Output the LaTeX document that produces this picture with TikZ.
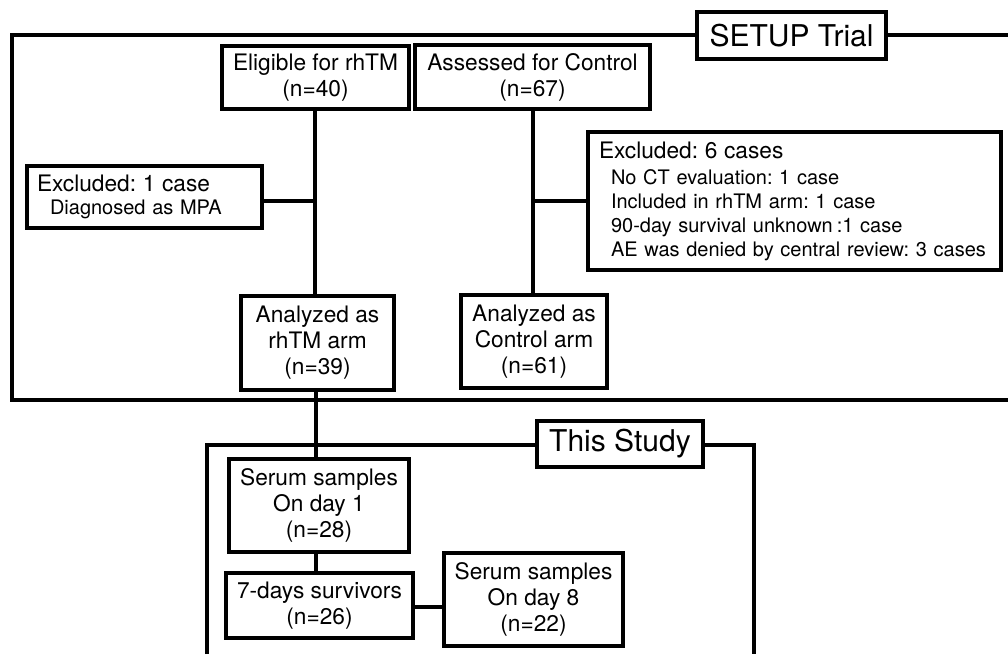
\documentclass[tikz,border=0pt]{standalone}
\usepackage{fontspec}
\setmainfont{TeX Gyre Heros}
\frenchspacing
\begin{document}
\begin{tikzpicture}[x=1pt,y=-1pt,
  frame/.style={line width=3.2pt},
  link/.style={line width=3.2pt},
  box/.style={draw, line width=3.2pt, fill=white, font=\fontsize{22.7}{26}\selectfont, align=center, inner sep=0pt},
  leftbox/.style={draw, line width=3.2pt, fill=white, font=\fontsize{20}{24}\selectfont, align=left, inner ysep=0pt},
  lbl/.style={draw, line width=3.2pt, fill=white, font=\fontsize{30}{34}\selectfont, inner sep=0pt}]
\useasboundingbox (0,0) rectangle (1008,654);

% frames
\draw[frame] (1008,35) -- (12,35) -- (12,400) -- (1008,400);
\draw[frame] (207,654) -- (207,445) -- (754,445) -- (754,654);

% frame labels
\node[lbl, minimum width=189pt, minimum height=47pt] (setup) at (791.5,35.5) {SETUP Trial};
\node[lbl, minimum width=166pt, minimum height=46pt] (study) at (620,444) {This Study};

% SETUP trial boxes
\node[box, minimum width=187pt, minimum height=63pt] (elig) at (315.5,77.5) {Eligible for rhTM\\(n=40)};
\node[box, minimum width=235pt, minimum height=64pt] (assess) at (532.5,77) {Assessed for Control\\(n=67)};
\node[leftbox, text width=215pt, inner xsep=10pt, minimum height=62pt] (excl1) at (144.5,197)
  {{\fontsize{22.7}{23}\selectfont Excluded: 1 case}\\[-1pt]\hspace*{13pt}Diagnosed as MPA};
\node[leftbox, text width=391pt, inner xsep=11pt, minimum height=138pt] (excl6) at (794.5,201)
  {{\fontsize{22.7}{24}\selectfont Excluded: 6 cases}\\[2pt]
   \hspace*{12pt}No CT evaluation: 1 case\\
   \hspace*{12pt}Included in rhTM arm: 1 case\\
   \hspace*{12pt}90-day survival unknown\hspace{4pt}:1 case\\
   \hspace*{12pt}AE was denied by central review: 3 cases};
\node[box, minimum width=153pt, minimum height=94pt] (anrh) at (317.5,343) {Analyzed as\\rhTM arm\\(n=39)};
\node[box, minimum width=146pt, minimum height=93pt] (anct) at (534,341.5) {Analyzed as\\Control arm\\(n=61)};

% This Study boxes
\node[box, minimum width=180pt, minimum height=93pt] (serum1) at (319,505.5) {Serum samples\\On day 1\\(n=28)};
\node[box, minimum width=187pt, minimum height=65pt] (days7) at (319.5,605.5) {7-days survivors\\(n=26)};
\node[box, minimum width=179pt, minimum height=93pt] (serum8) at (533.5,599.5) {Serum samples\\On day 8\\(n=22)};

% connectors
\coordinate (j1) at (315,201);
\draw[link] (elig.south -| j1) -- (anrh.north -| j1);
\draw[link] (excl1.east |- j1) -- (j1);
\coordinate (j2) at (533,201);
\draw[link] (assess.south -| j2) -- (anct.north -| j2);
\draw[link] (excl6.west |- j2) -- (j2);
\coordinate (j3) at (316,400);
\draw[link] (anrh.south -| j3) -- (serum1.north -| j3);
\draw[link] (serum1.south -| j3) -- (days7.north -| j3);
\coordinate (j4) at (430,607);
\draw[link] (days7.east |- j4) -- (serum8.west |- j4);
\end{tikzpicture}
\end{document}
